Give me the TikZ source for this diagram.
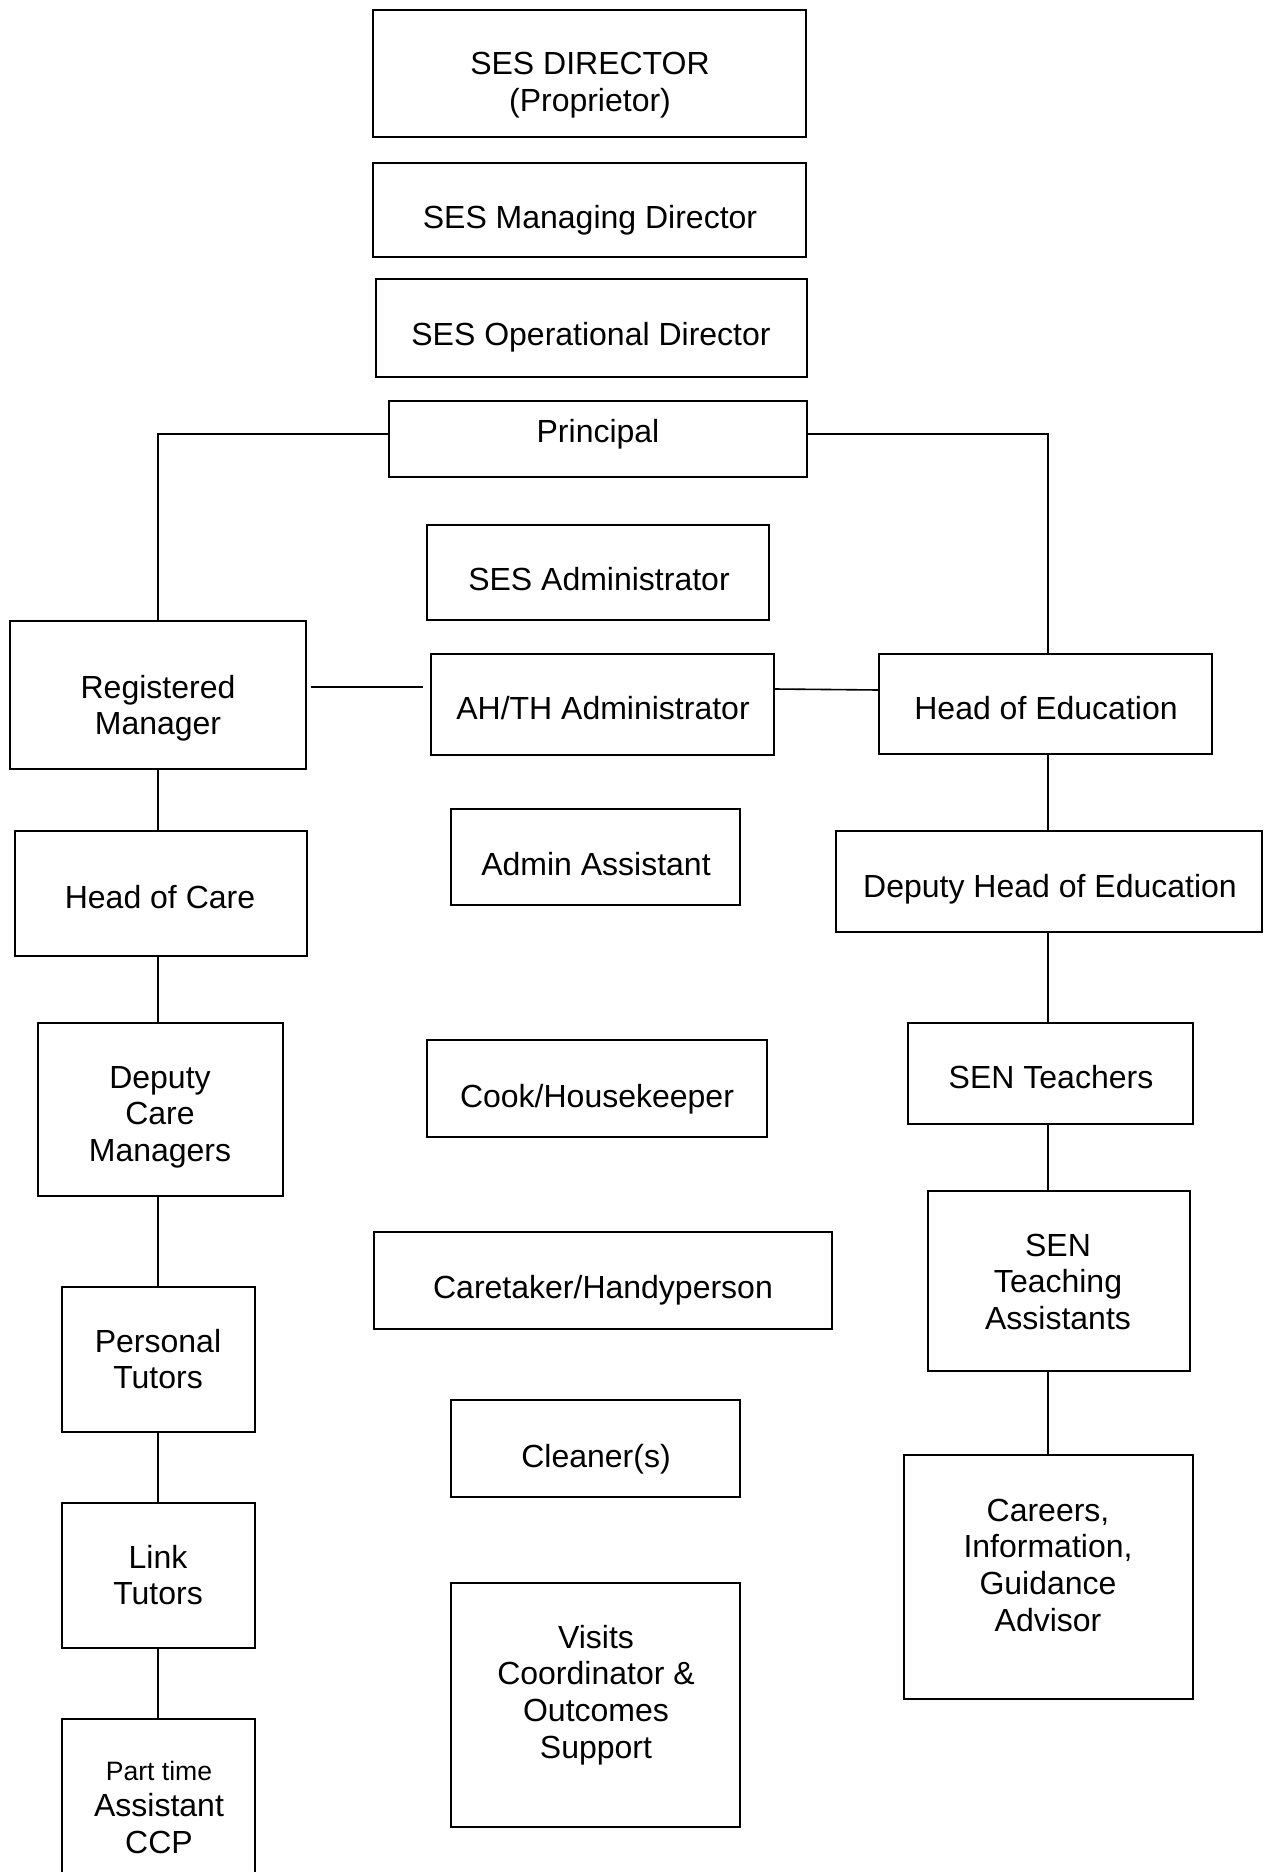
\documentclass[tikz,border=0pt]{standalone}
\usepackage{fontspec}
\setmainfont{Liberation Sans}
\usetikzlibrary{fit,calc}
\newcommand{\ml}[1]{\begin{tabular}[t]{@{}c@{}}#1\end{tabular}}
\begin{document}
\begin{tikzpicture}[x=0.5pt,y=-0.5pt,
  box/.style={draw, line width=0.8pt, inner sep=0pt, rectangle},
  txt/.style={inner sep=0pt, anchor=base, font=\fontsize{16}{18.4}\selectfont},
  link/.style={line width=0.55pt},
  hlink/.style={line width=0.8pt}]
\useasboundingbox (0,0) rectangle (1265,1872);
% boxes
\node[box, fit={(373,10) (806,137)}] (dir) {};
\node[box, fit={(373,163) (806,257)}] (md) {};
\node[box, fit={(376,279) (807,377)}] (od) {};
\node[box, fit={(389,401) (807,477)}] (pr) {};
\node[box, fit={(427,525) (769,620)}] (sa) {};
\node[box, fit={(10,621) (306,769)}] (rm) {};
\node[box, fit={(431,654) (774,755)}] (ah) {};
\node[box, fit={(879,654) (1212,754)}] (hoe) {};
\node[box, fit={(451,809) (740,905)}] (aa) {};
\node[box, fit={(15,831) (307,956)}] (hoc) {};
\node[box, fit={(836,831) (1262,932)}] (dhe) {};
\node[box, fit={(38,1023) (283,1196)}] (dcm) {};
\node[box, fit={(427,1040) (767,1137)}] (ck) {};
\node[box, fit={(908,1023) (1193,1124)}] (st) {};
\node[box, fit={(374,1232) (832,1329)}] (ct) {};
\node[box, fit={(928,1191) (1190,1371)}] (sta) {};
\node[box, fit={(62,1287) (255,1432)}] (pt) {};
\node[box, fit={(451,1400) (740,1497)}] (cl) {};
\node[box, fit={(904,1455) (1193,1699)}] (car) {};
\node[box, fit={(62,1503) (255,1648)}] (lt) {};
\node[box, fit={(451,1583) (740,1827)}] (vis) {};
\node[box, fit={(62,1719) (255,1885)}] (ptc) {};
% texts
\node[txt] (tdir) at (590,75) {\ml{SES DIRECTOR\\(Proprietor)}};
\node[txt] (tmd) at (590,229) {SES Managing Director};
\node[txt] (tod) at (591,345) {SES Operational Director};
\node[txt] (tpr) at (598,442) {Principal};
\node[txt] (tsa) at (599,590) {SES Administrator};
\node[txt] (trm) at (158,698) {\ml{Registered\\Manager}};
\node[txt] (tah) at (603,719) {AH/TH Administrator};
\node[txt] (thoe) at (1046,719) {Head of Education};
\node[txt] (taa) at (596,875) {Admin Assistant};
\node[txt] (thoc) at (160,908) {Head of Care};
\node[txt] (tdhe) at (1050,897) {Deputy Head of Education};
\node[txt] (tdcm) at (160,1088) {\ml{Deputy\\Care\\Managers}};
\node[txt] (tck) at (597,1107) {Cook/Housekeeper};
\node[txt] (tst) at (1051,1088) {SEN Teachers};
\node[txt] (tct) at (603,1298) {Caretaker/Handyperson};
\node[txt] (tsta) at (1058,1256) {\ml{SEN\\Teaching\\Assistants}};
\node[txt] (tpt) at (158,1352) {\ml{Personal\\Tutors}};
\node[txt] (tcl) at (596,1467) {Cleaner(s)};
\node[txt] (tlt) at (158,1568) {\ml{Link\\Tutors}};
\node[txt] (tptc) at (159,1780) {\ml{{\fontsize{13.3}{15.3}\selectfont Part time}\\Assistant\\CCP}};
\node[txt] (tvis) at (596,1648) {\ml{Visits\\Coordinator \&\\Outcomes\\Support}};
\node[txt] (tcar) at (1048,1521) {\ml{Careers,\\Information,\\Guidance\\Advisor}};
% connectors
\coordinate (ls) at (158,0);
\coordinate (rs) at (1048,0);
\draw[link] (pr.west |- 0,434) -| (rm.north -| ls);
\draw[link] (pr.east |- 0,434) -| (hoe.north -| rs);
\draw[link] (rm.south -| ls) -- (hoc.north -| ls);
\draw[link] (hoc.south -| ls) -- (dcm.north -| ls);
\draw[link] (dcm.south -| ls) -- (pt.north -| ls);
\draw[link] (pt.south -| ls) -- (lt.north -| ls);
\draw[link] (lt.south -| ls) -- (ptc.north -| ls);
\draw[link] (hoe.south -| rs) -- (dhe.north -| rs);
\draw[link] (dhe.south -| rs) -- (st.north -| rs);
\draw[link] (st.south -| rs) -- (sta.north -| rs);
\draw[link] (sta.south -| rs) -- (car.north -| rs);
\draw[hlink] ($(rm.east |- 0,687)+(4,0)$) -- ($(ah.west |- 0,687)+(-7,0)$);
\draw[hlink] (ah.east |- 0,689) -- (hoe.west |- 0,690);
\end{tikzpicture}
\end{document}
